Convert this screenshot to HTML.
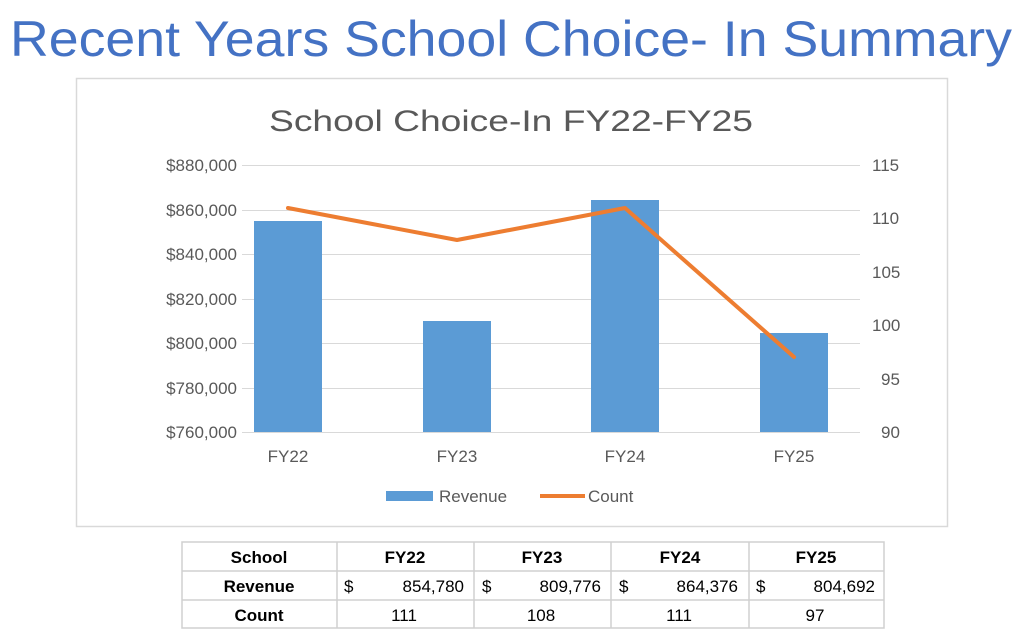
<!DOCTYPE html>
<html><head><meta charset="utf-8"><style>
html,body{margin:0;padding:0;background:#fff;}
svg{display:block;}
</style></head><body>
<svg width="1024" height="636" viewBox="0 0 1024 636" xmlns="http://www.w3.org/2000/svg" font-family="Liberation Sans, sans-serif">
<text x="10" y="56" font-size="50" fill="#4472C4" textLength="1002" lengthAdjust="spacingAndGlyphs">Recent Years School Choice- In Summary</text>
<rect x="76.5" y="78.5" width="871" height="448" fill="#fff" stroke="#d9d9d9" stroke-width="1.5"/>
<text x="511" y="131" font-size="30" fill="#595959" text-anchor="middle" textLength="484" lengthAdjust="spacingAndGlyphs">School Choice-In FY22-FY25</text>
<g stroke="#d9d9d9" stroke-width="1">
<line x1="242" x2="860" y1="165.5" y2="165.5"/>
<line x1="242" x2="860" y1="210.5" y2="210.5"/>
<line x1="242" x2="860" y1="254.5" y2="254.5"/>
<line x1="242" x2="860" y1="299.5" y2="299.5"/>
<line x1="242" x2="860" y1="343.5" y2="343.5"/>
<line x1="242" x2="860" y1="388.5" y2="388.5"/>
<line x1="242" x2="860" y1="432.5" y2="432.5"/>
</g>
<g font-size="17" fill="#595959" text-anchor="end">
<text x="237" y="171">$880,000</text>
<text x="237" y="216">$860,000</text>
<text x="237" y="260">$840,000</text>
<text x="237" y="305">$820,000</text>
<text x="237" y="349">$800,000</text>
<text x="237" y="394">$780,000</text>
<text x="237" y="438">$760,000</text>
</g>
<g font-size="17" fill="#595959">
<text x="872" y="171">115</text>
<text x="872" y="224">110</text>
<text x="872" y="278">105</text>
<text x="872" y="331">100</text>
<text x="881" y="385">95</text>
<text x="881" y="438">90</text>
</g>
<g fill="#5B9BD5">
<rect x="254" y="221" width="68" height="211"/>
<rect x="423" y="321" width="68" height="111"/>
<rect x="591" y="200" width="68" height="232"/>
<rect x="760" y="333" width="68" height="99"/>
</g>
<polyline points="288,208 457,240 625,208 794,357" fill="none" stroke="#ED7D31" stroke-width="4" stroke-linejoin="round" stroke-linecap="round"/>
<g font-size="17" fill="#595959" text-anchor="middle">
<text x="288" y="462">FY22</text>
<text x="457" y="462">FY23</text>
<text x="625" y="462">FY24</text>
<text x="794" y="462">FY25</text>
</g>
<rect x="386" y="491" width="47" height="10" fill="#5B9BD5"/>
<text x="439" y="502" font-size="17" fill="#595959">Revenue</text>
<line x1="540" x2="585" y1="496" y2="496" stroke="#ED7D31" stroke-width="4"/>
<text x="588" y="502" font-size="17" fill="#595959">Count</text>
<g stroke="#d0d0d0" stroke-width="1.5" fill="none">
<rect x="182" y="542" width="702" height="86"/>
<line x1="182" x2="884" y1="571" y2="571"/>
<line x1="182" x2="884" y1="600" y2="600"/>
<line x1="337" x2="337" y1="542" y2="628"/>
<line x1="474" x2="474" y1="542" y2="628"/>
<line x1="611" x2="611" y1="542" y2="628"/>
<line x1="749" x2="749" y1="542" y2="628"/>
</g>
<g font-size="17" fill="#000">
<g font-weight="bold" text-anchor="middle">
<text x="259" y="563">School</text>
<text x="405" y="563">FY22</text>
<text x="542" y="563">FY23</text>
<text x="680" y="563">FY24</text>
<text x="816" y="563">FY25</text>
<text x="259" y="592">Revenue</text>
<text x="259" y="621">Count</text>
</g>
<text x="344" y="592">$</text>
<text x="464" y="592" text-anchor="end">854,780</text>
<text x="482" y="592">$</text>
<text x="601" y="592" text-anchor="end">809,776</text>
<text x="619" y="592">$</text>
<text x="738" y="592" text-anchor="end">864,376</text>
<text x="756" y="592">$</text>
<text x="875" y="592" text-anchor="end">804,692</text>
<g text-anchor="middle">
<text x="404" y="621">111</text>
<text x="541" y="621">108</text>
<text x="679" y="621">111</text>
<text x="815" y="621">97</text>
</g>
</g>
</svg>
</body></html>
